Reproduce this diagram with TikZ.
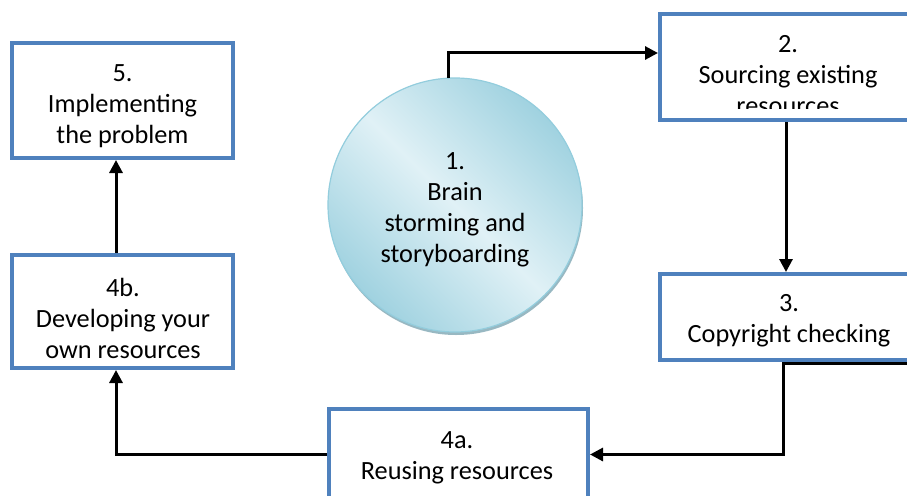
\documentclass[tikz,border=0pt]{standalone}
\usepackage{fontspec}
\setmainfont{Carlito}
\usetikzlibrary{arrows.meta,shadows,calc}
\definecolor{boxblue}{HTML}{4F81BD}
\definecolor{circedge}{HTML}{93CDDD}
\definecolor{circdark}{HTML}{A0D2E0}
\definecolor{circlight}{HTML}{E0F1F6}
\definecolor{circshadow}{HTML}{8DB1BC}
\tikzset{
  stepbox/.style={draw=boxblue, line width=4pt, rectangle, inner sep=0pt},
  txt/.style={inner sep=0pt, align=center, font=\fontsize{26.3}{31}\selectfont},
  arr/.style={draw=black, line width=3pt, -{Triangle[length=13pt,width=13pt]}},
}
\begin{document}
\begin{tikzpicture}[x=1pt,y=-1pt]
\clip (0,0) rectangle (907,495);
\fill[white] (0,0) rectangle (907,495);
% circle
\node[circle, minimum size=254pt, inner sep=0pt, draw=circedge, line width=1.2pt,
  shading=axis, top color=circdark, bottom color=circdark, middle color=circlight, shading angle=-45,
  drop shadow={shadow xshift=1pt, shadow yshift=-3pt, fill=circshadow, opacity=0.9}] (c1) at (455,205) {};
\node[txt] (t1) at (455,210) {1.\\Brain\\storming and\\storyboarding};
% boxes
\node[stepbox, minimum width=221pt, minimum height=115pt] (b5) at (122.5,100.5) {};
\node[txt] (t5) at (122.5,106.5) {5.\\Implementing\\the problem};
\node[stepbox, minimum width=221pt, minimum height=113pt] (b4b) at (122.5,311.5) {};
\node[txt] (t4b) at (123,318) {4b.\\Developing your\\own resources};
\node[stepbox, minimum width=259pt, minimum height=91pt] (b4a) at (458.5,454.5) {};
\node[txt] (t4a) at (457,457.5) {4a.\\Reusing resources};
\node[stepbox, minimum width=260pt, minimum height=86pt] (b3) at (790,317) {};
\node[txt] (t3) at (789,320.5) {3.\\Copyright checking};
\begin{scope}
\clip (662,16) rectangle (918,108);
\node[txt] (t2) at (788,75.5) {2.\\Sourcing existing\\resources};
\end{scope}
\node[stepbox, minimum width=260pt, minimum height=106pt] (b2) at (790,67) {};
% connectors
\coordinate (k3) at (783,363);
\draw[arr] (c1.93) |- ([yshift=14pt]b2.west);
\draw[arr] ([xshift=-4pt]b2.south) -- ([xshift=-4pt]b3.north);
\draw[arr] ([yshift=-1pt]b3.south east) -- (k3) |- (b4a.east);
\draw[arr] (b4a.west) -| ([xshift=-6.5pt]b4b.south);
\draw[arr] ([xshift=-6.5pt]b4b.north) -- ([xshift=-6.5pt]b5.south);
\end{tikzpicture}
\end{document}
